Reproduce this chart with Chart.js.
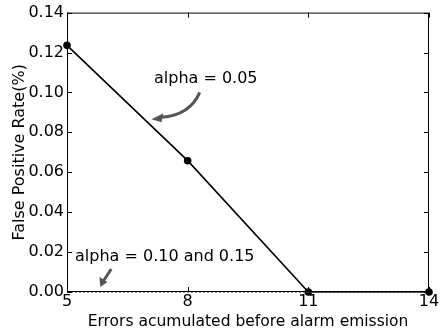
<!DOCTYPE html>
<html>
<head>
<meta charset="utf-8">
<script src="https://cdn.jsdelivr.net/npm/chart.js@4/dist/chart.umd.min.js"></script>
<style>
  html, body { margin: 0; padding: 0; background: #fff; }
</style>
</head>
<body>
<canvas id="my-chart" width="441" height="331"></canvas>
<script>
// data
var errors = [5, 8, 11, 14];
var fpr005 = [0.1236, 0.0658, 0, 0];
var fpr010 = [0, 0, 0, 0];
var xTicks = [5, 8, 11, 14];
var yTicks = [0, 0.02, 0.04, 0.06, 0.08, 0.10, 0.12, 0.14];

var font = 'DejaVu Sans';

// inward ticks on all four sides + the annotations
var extras = {
    id: 'extras',
    afterDraw: function (chart) {
        var c = chart.ctx, a = chart.chartArea;
        var xs = chart.scales.x, ys = chart.scales.y;
        c.save();
        c.strokeStyle = '#000';
        c.lineWidth = 1;
        c.strokeRect(a.left + 0.5, a.top + 0.5, a.right - a.left - 1, a.bottom - a.top - 1);
        c.beginPath();
        yTicks.forEach(function (v) {
            var y = Math.round(ys.getPixelForValue(v)) + 0.5;
            c.moveTo(a.left, y); c.lineTo(a.left + 5, y);
            c.moveTo(a.right, y); c.lineTo(a.right - 5, y);
        });
        xTicks.forEach(function (v) {
            var x = Math.round(xs.getPixelForValue(v)) + 0.5;
            c.moveTo(x, a.bottom); c.lineTo(x, a.bottom - 5);
            c.moveTo(x, a.top); c.lineTo(x, a.top + 5);
        });
        c.stroke();

        // annotations
        c.fillStyle = '#000';
        c.font = '16px ' + font;
        c.textAlign = 'center';
        c.textBaseline = 'middle';
        c.fillText('alpha = 0.05', xs.getPixelForValue(8.45), ys.getPixelForValue(0.1067));
        c.textAlign = 'left';
        c.fillText('alpha = 0.10 and 0.15', xs.getPixelForValue(5.2), ys.getPixelForValue(0.0175));

        c.strokeStyle = '#555';
        c.fillStyle = '#555';
        c.lineWidth = 3;
        // curved arrow for alpha = 0.05
        var sx = xs.getPixelForValue(8.3), sy = ys.getPixelForValue(0.1);
        var tx = xs.getPixelForValue(7.1), ty = ys.getPixelForValue(0.0865);
        c.beginPath();
        c.moveTo(sx, sy);
        c.quadraticCurveTo(sx - 10, ty - 4, tx + 10, ty - 2);
        c.stroke();
        c.beginPath();
        c.moveTo(tx, ty);
        c.lineTo(tx + 12, ty - 6);
        c.lineTo(tx + 10, ty + 3);
        c.closePath();
        c.fill();
        // straight arrow for alpha = 0.10 and 0.15
        var ax = xs.getPixelForValue(6.1), ay = ys.getPixelForValue(0.0115);
        var bx = xs.getPixelForValue(5.83), by = ys.getPixelForValue(0.0025);
        c.beginPath();
        c.moveTo(ax, ay);
        c.lineTo(bx + 3, by - 6);
        c.stroke();
        c.beginPath();
        c.moveTo(bx, by);
        c.lineTo(bx - 1, by - 10);
        c.lineTo(bx + 7, by - 5);
        c.closePath();
        c.fill();
        c.restore();
    }
};

var ctx = document.getElementById('my-chart').getContext('2d');
var myChart = new Chart(ctx, {
    type: 'line',
    data: {
        datasets: [{
            label: 'alpha = 0.10 and 0.15',
            data: errors.map(function (x, i) { return { x: x, y: fpr010[i] }; }),
            borderColor: '#666',
            borderWidth: 1.5,
            borderDash: [2, 2],
            pointRadius: 0
        }, {
            label: 'alpha = 0.05',
            data: errors.map(function (x, i) { return { x: x, y: fpr005[i] }; }),
            borderColor: '#000',
            backgroundColor: '#000',
            borderWidth: 1.6,
            pointRadius: 3,
            tension: 0
        }]
    },
    options: {
        responsive: false,
        animation: false,
        clip: false,
        layout: { padding: { top: 11, right: 12, left: 0, bottom: 0 } },
        plugins: {
            legend: { display: false },
            tooltip: { enabled: false }
        },
        scales: {
            x: {
                type: 'linear',
                min: 5,
                max: 14,
                afterBuildTicks: function (s) { s.ticks = xTicks.map(function (v) { return { value: v }; }); },
                afterFit: function (s) { s.height = 39; },
                grid: { display: false, drawTicks: false },
                border: { display: false },
                ticks: {
                    color: '#000',
                    padding: 0,
                    autoSkip: false,
                    maxRotation: 0,
                    font: { family: font, size: 16 }
                },
                title: {
                    display: true,
                    text: 'Errors acumulated before alarm emission',
                    color: '#000',
                    padding: { top: -3, bottom: 0 },
                    font: { family: font, size: 15.5 }
                }
            },
            y: {
                min: 0,
                max: 0.14,
                afterBuildTicks: function (s) { s.ticks = yTicks.map(function (v) { return { value: v }; }); },
                afterFit: function (s) { s.width = 67; },
                grid: { display: false, drawTicks: false },
                border: { display: false },
                ticks: {
                    color: '#000',
                    padding: 3,
                    autoSkip: false,
                    font: { family: font, size: 16 },
                    callback: function (v) { return v.toFixed(2); }
                },
                title: {
                    display: true,
                    text: 'False Positive Rate(%)',
                    color: '#000',
                    padding: { top: 10, bottom: 0 },
                    font: { family: font, size: 16 }
                }
            }
        }
    },
    plugins: [extras]
});
</script>
</body>
</html>
